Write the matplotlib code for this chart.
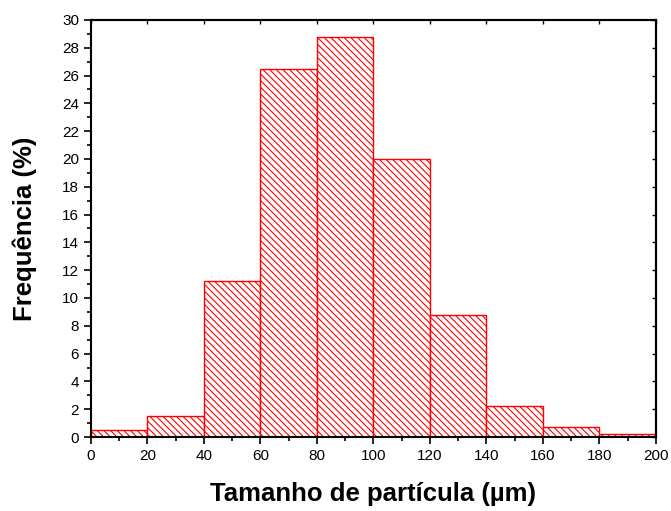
import matplotlib
matplotlib.use('Agg')
import matplotlib.pyplot as plt
from matplotlib.ticker import MultipleLocator

plt.rcParams['font.family'] = ['Liberation Sans', 'DejaVu Sans']
plt.rcParams['hatch.color'] = 'red'
plt.rcParams['hatch.linewidth'] = 0.8

# data
bin_edges = [0, 20, 40, 60, 80, 100, 120, 140, 160, 180, 200]
freq = [0.5, 1.5, 11.25, 26.5, 28.75, 20.0, 8.75, 2.25, 0.75, 0.25]

fig = plt.figure(figsize=(6.71, 5.11), dpi=100)
ax = fig.add_axes([0.1356, 0.1448, 0.842, 0.8161])

ax.bar(bin_edges[:-1], freq, width=20, align='edge', facecolor='white',
       edgecolor='red', linewidth=1.0, hatch='\\\\\\\\\\')

ax.set_xlim(0, 200)
ax.set_ylim(0, 30)
ax.xaxis.set_major_locator(MultipleLocator(20))
ax.xaxis.set_minor_locator(MultipleLocator(10))
ax.yaxis.set_major_locator(MultipleLocator(2))
ax.yaxis.set_minor_locator(MultipleLocator(1))
ax.tick_params(axis='both', which='major', direction='out', length=5, width=1.2,
               labelsize=11, top=False, right=False)
ax.tick_params(axis='both', which='minor', direction='out', length=3, width=1.2)

# small inward ticks on top and right
sec_x = ax.secondary_xaxis('top')
sec_x.xaxis.set_major_locator(MultipleLocator(20))
sec_x.tick_params(direction='in', length=3, width=1, labeltop=False)
sec_y = ax.secondary_yaxis('right')
sec_y.yaxis.set_major_locator(MultipleLocator(2))
sec_y.tick_params(direction='in', length=3, width=1, labelright=False)

for s in ax.spines.values():
    s.set_linewidth(1.5)
sec_x.spines['top'].set_linewidth(1.5)
sec_y.spines['right'].set_linewidth(1.5)

ax.set_xlabel('Tamanho de partícula (µm)', fontsize=18.5, fontweight='bold', labelpad=14)
ax.set_ylabel('Frequência (%)', fontsize=18.5, fontweight='bold', labelpad=18)

fig.savefig('out.png', dpi=100)
